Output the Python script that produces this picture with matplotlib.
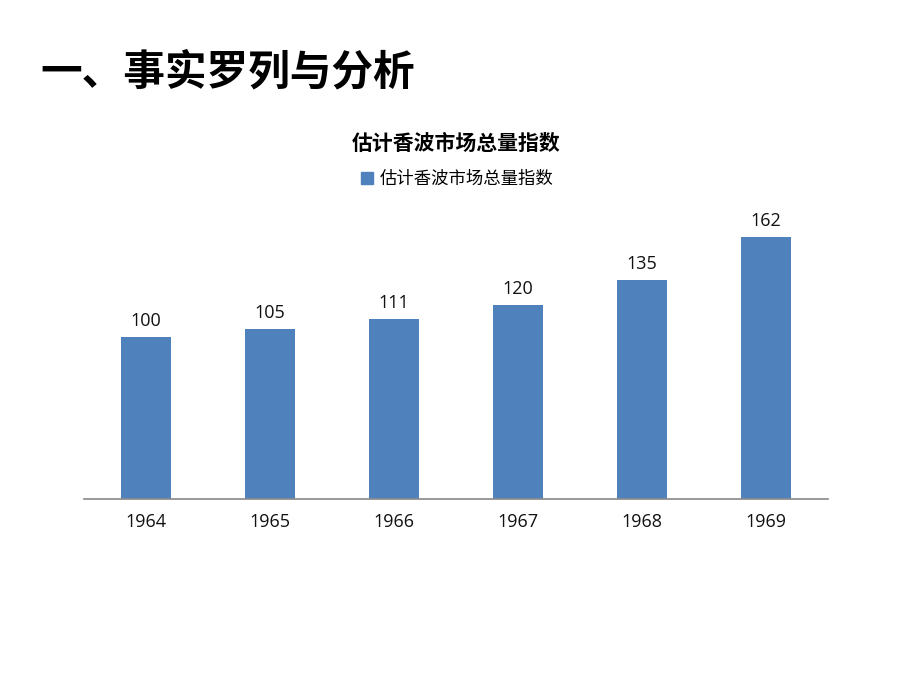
import matplotlib
matplotlib.use("Agg")
import matplotlib.pyplot as plt
from matplotlib.patches import Patch

plt.rcParams["font.family"] = ["Noto Sans CJK SC", "DejaVu Sans"]

years = ["1964", "1965", "1966", "1967", "1968", "1969"]
index_values = [100, 105, 111, 120, 135, 162]
series_name = "估计香波市场总量指数"
chart_title = "估计香波市场总量指数"
page_title = "一、事实罗列与分析"

BAR_COLOR = "#4F81BD"
AXIS_COLOR = "#898989"

fig = plt.figure(figsize=(9.2, 6.9), dpi=100)
fig.patch.set_facecolor("white")
ax = fig.add_axes([0.0913, 0.2768, 0.8087, 0.4226])

x = range(len(years))
ax.bar(x, index_values, width=0.40, color=BAR_COLOR, zorder=2)

for i, v in enumerate(index_values):
    ax.annotate(f"{v}", (i, v), xytext=(0, 5), textcoords="offset points",
                ha="center", va="bottom", fontsize=13, family=["Open Sans", "DejaVu Sans"],
                color="#111111")

ax.set_xlim(-0.5, len(years) - 0.5)
ax.set_ylim(0, 180)
ax.set_xticks(list(x))
ax.set_xticklabels(years, fontsize=13, family=["Open Sans", "DejaVu Sans"], color="#111111")
ax.tick_params(axis="x", length=0, pad=10)
ax.set_yticks([])
for side in ["top", "left", "right"]:
    ax.spines[side].set_visible(False)
ax.spines["bottom"].set_color(AXIS_COLOR)
ax.spines["bottom"].set_linewidth(1.2)

fig.text(40 / 920, 1 - 72 / 690, page_title, fontsize=30, fontweight="bold",
         ha="left", va="center", color="#000000")
fig.text(456 / 920, 1 - 143 / 690, chart_title, fontsize=15, fontweight="bold",
         ha="center", va="center", color="#000000")

fig.legend(handles=[Patch(color=BAR_COLOR, label=series_name)], loc="center",
           bbox_to_anchor=(457 / 920, 1 - 179 / 690), frameon=False,
           handlelength=0.7, handleheight=0.7, handletextpad=0.4,
           prop={"size": 12.5})

fig.savefig("out.png", dpi=100, facecolor="white")
